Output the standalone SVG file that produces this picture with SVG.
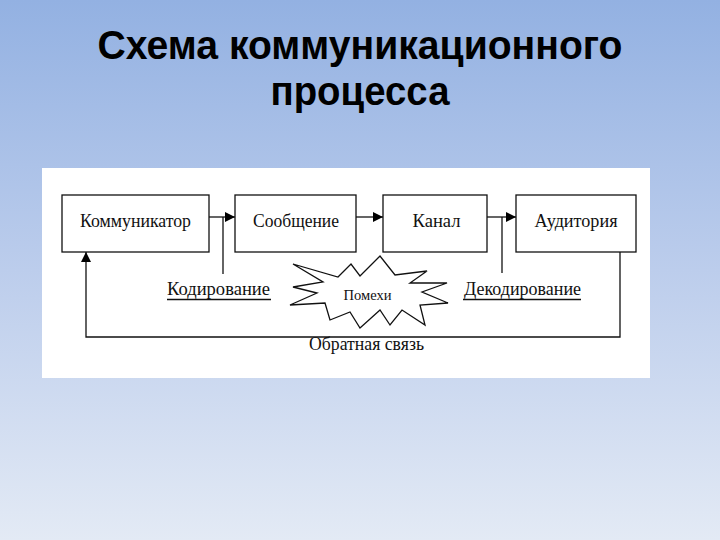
<svg xmlns="http://www.w3.org/2000/svg" width="720" height="540" viewBox="0 0 720 540">
<defs>
<linearGradient id="bg" x1="0" y1="0" x2="0" y2="1">
<stop offset="0" stop-color="#93b1e2"/>
<stop offset="0.5" stop-color="#bccdec"/>
<stop offset="1" stop-color="#e3eaf5"/>
</linearGradient>
<marker id="ah" viewBox="0 0 10 10" refX="10" refY="5" markerWidth="10" markerHeight="10" markerUnits="userSpaceOnUse" orient="auto">
<path d="M0,0 L10,5 L0,10 Z" fill="#000"/>
</marker>
<style>
.box{fill:#fff;stroke:#111;stroke-width:1.3}
.ln{fill:none;stroke:#111;stroke-width:1.3}
.t{font-family:"Liberation Serif","Times New Roman",serif;font-size:18px;fill:#111}
.c{text-anchor:middle}
.title{font-family:"Liberation Sans",Arial,sans-serif;font-weight:bold;font-size:40px;fill:#000;text-anchor:middle}
</style>
</defs>
<rect width="720" height="540" fill="url(#bg)"/>
<text class="title" x="360" y="59" textLength="525" lengthAdjust="spacingAndGlyphs">Схема коммуникационного</text>
<text class="title" x="360" y="105" textLength="179" lengthAdjust="spacingAndGlyphs">процесса</text>
<rect x="42" y="168" width="608" height="210" fill="#fff"/>
<g id="connectors">
<line class="ln" x1="209" y1="217" x2="235" y2="217" marker-end="url(#ah)"/>
<line class="ln" x1="356" y1="217" x2="383" y2="217" marker-end="url(#ah)"/>
<line class="ln" x1="487" y1="217" x2="516" y2="217" marker-end="url(#ah)"/>
<line class="ln" x1="223" y1="217" x2="223" y2="274"/>
<line class="ln" x1="502" y1="217" x2="502" y2="273"/>
<polyline class="ln" points="620,252 620,337 86,337 86,252" marker-end="url(#ah)"/>
</g>
<g id="kommunikator">
<rect class="box" x="62" y="195" width="147" height="57"/>
<text class="t c" x="135.5" y="227" textLength="111" lengthAdjust="spacingAndGlyphs">Коммуникатор</text>
</g>
<g id="soobshchenie">
<rect class="box" x="235" y="195" width="121" height="57"/>
<text class="t c" x="296" y="227" textLength="86" lengthAdjust="spacingAndGlyphs">Сообщение</text>
</g>
<g id="kanal">
<rect class="box" x="383" y="195" width="104" height="57"/>
<text class="t c" x="436.5" y="227" textLength="48" lengthAdjust="spacingAndGlyphs">Канал</text>
</g>
<g id="auditoriya">
<rect class="box" x="516" y="195" width="120" height="57"/>
<text class="t c" x="576" y="227" textLength="83" lengthAdjust="spacingAndGlyphs">Аудитория</text>
</g>
<g id="kodirovanie">
<text class="t" x="167" y="294.5" textLength="103" lengthAdjust="spacingAndGlyphs">Кодирование</text>
<line class="ln" x1="167" y1="299.5" x2="271" y2="299.5" stroke-width="1"/>
</g>
<g id="dekodirovanie">
<text class="t" x="464" y="295" textLength="117" lengthAdjust="spacingAndGlyphs">Декодирование</text>
<line class="ln" x1="463" y1="299.5" x2="581" y2="299.5" stroke-width="1"/>
</g>
<g id="pomekhi">
<polygon class="ln" fill="#fff" points="293,264 338,277 351,264 360,276 380,256 395,275 427,271 410,283 447,283 422,292 448,303 420,305 425,325 402,310 390,325 380,310 360,328 350,312 330,320 325,303 290,305 317,293 293,287 323,282"/>
<text class="t c" x="367.5" y="300" style="font-size:15px" textLength="48" lengthAdjust="spacingAndGlyphs">Помехи</text>
</g>
<g id="obratnaya-svyaz">
<text class="t c" x="366.5" y="350" textLength="115" lengthAdjust="spacingAndGlyphs">Обратная связь</text>
</g>
</svg>
